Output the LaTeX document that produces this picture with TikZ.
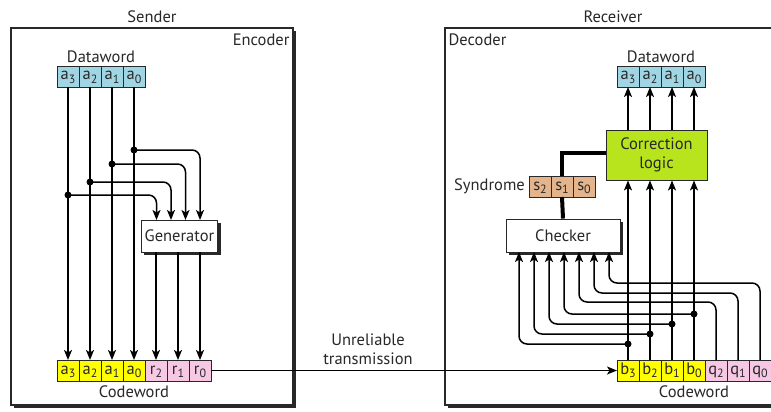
\documentclass[tikz,border=0pt]{standalone}
\usepackage{fontspec}
\setmainfont{PT Sans}
\usetikzlibrary{arrows.meta,positioning,shadows}
\definecolor{inkgray}{RGB}{40,40,40}
\definecolor{datablue}{RGB}{160,214,228}
\definecolor{codeyellow}{RGB}{255,255,0}
\definecolor{checkpink}{RGB}{246,200,228}
\definecolor{syntan}{RGB}{228,180,140}
\definecolor{logicgreen}{RGB}{184,228,30}
\newcommand{\bitsub}[2]{#1\raisebox{-0.4ex}{\fontsize{12}{12}\selectfont #2}}
\tikzset{
    lbl/.style={font=\fontsize{16.5}{19}\selectfont, text=inkgray, inner sep=2pt},
    cell/.style={draw=inkgray, line width=0.8pt, minimum width=22pt, minimum height=21pt,
        inner sep=0pt, outer sep=0pt, text height=10pt, text depth=3pt, text=inkgray,
        font=\fontsize{16.5}{16.5}\selectfont},
    frame/.style={draw=inkgray, line width=1.2pt, fill=white,
        drop shadow={shadow xshift=3pt, shadow yshift=-3pt, fill=inkgray, opacity=1}},
    procbox/.style={frame, line width=0.9pt, font=\fontsize{16.5}{19}\selectfont, text=inkgray},
    wire/.style={draw=black, line width=1.5pt, -{Stealth[length=10pt,width=8pt,inset=2.5pt]}},
    bentwire/.style={wire, rounded corners=8pt},
    dot/.style={fill=black}
}
\begin{document}
\begin{tikzpicture}[x=1pt,y=-1pt]
    \useasboundingbox (0,0) rectangle (771,412);
    \clip (0,0) rectangle (771,412);
    % the two boxes
    \node[frame, minimum width=282pt, minimum height=377pt] (enc) at (152,216.5) {};
    \node[frame, minimum width=336pt, minimum height=377pt] (dec) at (613,216.5) {};
    \node[lbl, above=3pt of enc] (sender) {Sender};
    \node[lbl, above=3pt of dec] (receiver) {Receiver};
    \node[lbl, anchor=north east, inner sep=4pt, yshift=-2pt] (encl) at (enc.north east) {Encoder};
    \node[lbl, anchor=north west, inner sep=4pt, yshift=-2pt] (decl) at (dec.north west) {Decoder};

    % sender
    \node[cell, fill=datablue] (da3) at (68,76.5) {\bitsub{a}{3}};
    \node[cell, fill=datablue, right=0pt of da3] (da2) {\bitsub{a}{2}};
    \node[cell, fill=datablue, right=0pt of da2] (da1) {\bitsub{a}{1}};
    \node[cell, fill=datablue, right=0pt of da1] (da0) {\bitsub{a}{0}};
    \node[lbl, above=1.5pt of da2.north east] (dwl) {Dataword};
    \node[cell, fill=codeyellow] (ca3) at (68,370.5) {\bitsub{a}{3}};
    \node[cell, fill=codeyellow, right=0pt of ca3] (ca2) {\bitsub{a}{2}};
    \node[cell, fill=codeyellow, right=0pt of ca2] (ca1) {\bitsub{a}{1}};
    \node[cell, fill=codeyellow, right=0pt of ca1] (ca0) {\bitsub{a}{0}};
    \node[cell, fill=checkpink, right=0pt of ca0] (cr2) {\bitsub{r}{2}};
    \node[cell, fill=checkpink, right=0pt of cr2] (cr1) {\bitsub{r}{1}};
    \node[cell, fill=checkpink, right=0pt of cr1] (cr0) {\bitsub{r}{0}};
    \node[lbl, below=2.5pt of ca0] (cwl) {Codeword};
    \node[procbox, minimum width=75pt, minimum height=32pt] (gen) at (179.5,236) {Generator};
    \draw[wire] (da3.south) -- (ca3.north);
    \draw[wire] (da2.south) -- (ca2.north);
    \draw[wire] (da1.south) -- (ca1.north);
    \draw[wire] (da0.south) -- (ca0.north);
    \coordinate (j0) at (134,150);
    \coordinate (j1) at (112,164);
    \coordinate (j2) at (90,182);
    \coordinate (j3) at (68,195);
    \coordinate (g0) at (200,220);
    \coordinate (g1) at (185.5,220);
    \coordinate (g2) at (171,220);
    \coordinate (g3) at (156.5,220);
    \draw[bentwire] (j0) -| (g0);
    \draw[bentwire] (j1) -| (g1);
    \draw[bentwire] (j2) -| (g2);
    \draw[bentwire] (j3) -| (g3);
    \fill[dot] (j0) circle (3.5pt) (j1) circle (3.5pt) (j2) circle (3.5pt) (j3) circle (3.5pt);
    \draw[wire] (gen.south -| cr2.north) -- (cr2.north);
    \draw[wire] (gen.south -| cr1.north) -- (cr1.north);
    \draw[wire] (gen.south -| cr0.north) -- (cr0.north);

    % channel
    \node[lbl, align=center, inner sep=0pt] (trl) at (368,349) {Unreliable\\transmission};

    % receiver
    \node[cell, fill=codeyellow] (cb3) at (628,370.5) {\bitsub{b}{3}};
    \node[cell, fill=codeyellow, right=0pt of cb3] (cb2) {\bitsub{b}{2}};
    \node[cell, fill=codeyellow, right=0pt of cb2] (cb1) {\bitsub{b}{1}};
    \node[cell, fill=codeyellow, right=0pt of cb1] (cb0) {\bitsub{b}{0}};
    \node[cell, fill=checkpink, right=0pt of cb0] (cq2) {\bitsub{q}{2}};
    \node[cell, fill=checkpink, right=0pt of cq2] (cq1) {\bitsub{q}{1}};
    \node[cell, fill=checkpink, right=0pt of cq1] (cq0) {\bitsub{q}{0}};
    \node[lbl, below=2.5pt of cb0] (cwr) {Codeword};
    \draw[wire] (cr0.east) -- (cb3.west);

    \node[cell, fill=datablue] (ra3) at (628,76.5) {\bitsub{a}{3}};
    \node[cell, fill=datablue, right=0pt of ra3] (ra2) {\bitsub{a}{2}};
    \node[cell, fill=datablue, right=0pt of ra2] (ra1) {\bitsub{a}{1}};
    \node[cell, fill=datablue, right=0pt of ra1] (ra0) {\bitsub{a}{0}};
    \node[lbl, above=1.5pt of ra2.north east] (dwr) {Dataword};
    \node[draw=inkgray, line width=0.9pt, fill=logicgreen, minimum width=101pt, minimum height=50pt,
        align=center, font=\fontsize{16.5}{19}\selectfont, text=inkgray] (cor) at (656.5,155) {Correction\\logic};
    \draw[wire] (cor.north -| ra3.south) -- (ra3.south);
    \draw[wire] (cor.north -| ra2.south) -- (ra2.south);
    \draw[wire] (cor.north -| ra1.south) -- (ra1.south);
    \draw[wire] (cor.north -| ra0.south) -- (ra0.south);
    \draw[wire] (cb3.north) -- (cor.south -| cb3.north);
    \draw[wire] (cb2.north) -- (cor.south -| cb2.north);
    \draw[wire] (cb1.north) -- (cor.south -| cb1.north);
    \draw[wire] (cb0.north) -- (cor.south -| cb0.north);

    \node[cell, fill=syntan] (sy2) at (540,186.5) {\bitsub{s}{2}};
    \node[cell, fill=syntan, right=0pt of sy2] (sy1) {\bitsub{s}{1}};
    \node[cell, fill=syntan, right=0pt of sy1] (sy0) {\bitsub{s}{0}};
    \node[lbl, left=2pt of sy2] (syl) {Syndrome};
    \node[procbox, minimum width=114pt, minimum height=33pt] (chk) at (563,235.5) {Checker};
    \draw[line width=4pt, draw=black] (cor.west |- 0,153) -| (sy1.north);
    \draw[line width=4pt, draw=black] (sy1.south) -- (chk.north);

    \coordinate (k3) at (628,344);
    \coordinate (k2) at (650,334);
    \coordinate (k1) at (672,324);
    \coordinate (k0) at (694,314);
    \coordinate (i6) at (519,252);
    \coordinate (i5) at (534,252);
    \coordinate (i4) at (549,252);
    \coordinate (i3) at (564,252);
    \coordinate (i2) at (579,252);
    \coordinate (i1) at (594,252);
    \coordinate (i0) at (609,252);
    \draw[bentwire] (k3) -| (i6);
    \draw[bentwire] (k2) -| (i5);
    \draw[bentwire] (k1) -| (i4);
    \draw[bentwire] (k0) -| (i3);
    \draw[bentwire] (cq2.north) |- (579,302) -- (i2);
    \draw[bentwire] (cq1.north) |- (594,293) -- (i1);
    \draw[bentwire] (cq0.north) |- (609,283) -- (i0);
    \fill[dot] (k3) circle (3.5pt) (k2) circle (3.5pt) (k1) circle (3.5pt) (k0) circle (3.5pt);
\end{tikzpicture}
\end{document}
